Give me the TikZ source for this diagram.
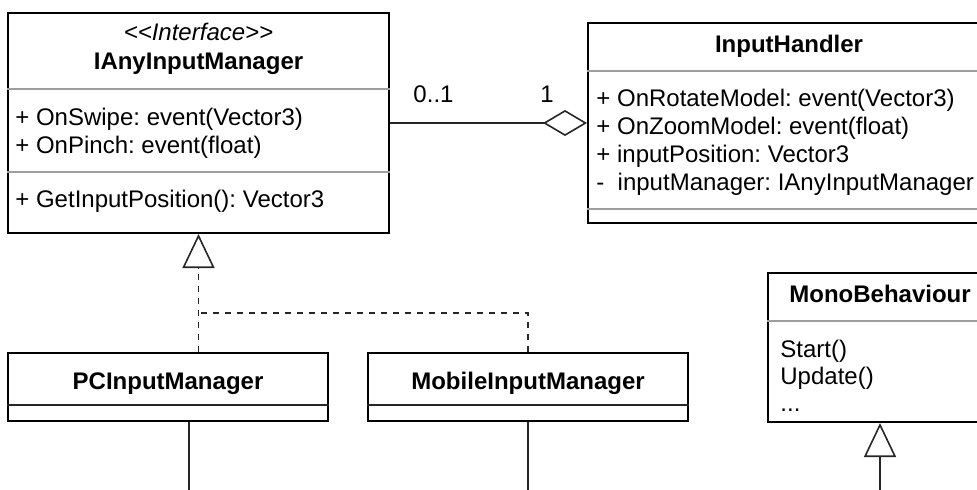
\documentclass[tikz,border=0pt]{standalone}
\usepackage{fontspec}
\newfontfamily\umlfont{Liberation Sans}
\usetikzlibrary{arrows.meta}
\frenchspacing

\tikzset{
  umlbox/.style={draw=black, line width=1pt, fill=white, inner sep=0pt},
  sepline/.style={draw=black!38, line width=1pt},
  darksep/.style={draw=black!85, line width=1pt},
  memb/.style={anchor=base west, inner sep=0pt},
  ttl/.style={anchor=base, inner sep=0pt, font=\umlfont\fontsize{12}{14.4}\selectfont\bfseries},
  stereo/.style={anchor=base, inner sep=0pt, font=\umlfont\fontsize{12}{14.4}\selectfont\itshape},
  mult/.style={anchor=base, inner sep=0pt},
  conn/.style={draw=black!85, line width=0.8pt},
  aggr/.style={conn, -{Diamond[open, length=22pt, width=13pt]}},
  realize/.style={conn, dash pattern=on 3pt off 3pt},
  realizetip/.style={realize, -{Triangle[open, length=17pt, width=16pt]}},
  generaltip/.style={conn, -{Triangle[open, length=17pt, width=16pt]}}
}

\begin{document}
\begin{tikzpicture}[x=0.5pt, y=-0.5pt, font=\umlfont\fontsize{12}{14.4}\selectfont]
\useasboundingbox (0,0) rectangle (977,489);
\clip (0,0) rectangle (977,489);

% ---------- interface IAnyInputManager ----------
\node[umlbox, minimum width=190.5pt, minimum height=110pt] (ia) at (198.5,123) {};
\draw[sepline] (ia.west |- 0,89) -- (ia.east |- 0,89);
\draw[sepline] (ia.west |- 0,172) -- (ia.east |- 0,172);
\node[stereo] (ia-st) at (198.5,40) {<{}<Interface>{}>};
\node[ttl] (ia-t) at (198.5,69) {IAnyInputManager};
\node[memb] (ia-a1) at (15,125) {+ OnSwipe: event(Vector3)};
\node[memb] (ia-a2) at (15,153) {+ OnPinch: event(float)};
\node[memb] (ia-m1) at (15,207) {+ GetInputPosition(): Vector3};

% ---------- class InputHandler ----------
\node[umlbox, minimum width=201pt, minimum height=100pt] (ih) at (789,123) {};
\draw[sepline] (ih.west |- 0,71) -- (ih.east |- 0,71);
\draw[sepline] (ih.west |- 0,209) -- (ih.east |- 0,209);
\node[ttl] (ih-t) at (789,52) {InputHandler};
\node[memb] (ih-a1) at (596,106) {+ OnRotateModel: event(Vector3)};
\node[memb] (ih-a2) at (596,134) {+ OnZoomModel: event(float)};
\node[memb] (ih-a3) at (596,162) {+ inputPosition: Vector3};
\node[memb] (ih-a4) at (596,190) {-\ \ inputManager: IAnyInputManager};

% ---------- class PCInputManager ----------
\node[umlbox, minimum width=160pt, minimum height=34pt] (pc) at (168,387) {};
\draw[darksep] (pc.west |- 0,405) -- (pc.east |- 0,405);
\node[ttl] (pc-t) at (168,389) {PCInputManager};

% ---------- class MobileInputManager ----------
\node[umlbox, minimum width=160pt, minimum height=34pt] (mob) at (528,387) {};
\draw[darksep] (mob.west |- 0,405) -- (mob.east |- 0,405);
\node[ttl] (mob-t) at (528,389) {MobileInputManager};

% ---------- class MonoBehaviour ----------
\node[umlbox, minimum width=112pt, minimum height=74.5pt] (mono) at (880,347.5) {};
\draw[sepline] (mono.west |- 0,321) -- (mono.east |- 0,321);
\node[ttl] (mono-t) at (880,302) {MonoBehaviour};
\node[memb] (mono-m1) at (780,357) {Start()};
\node[memb] (mono-m2) at (780,384) {Update()};
\node[memb] (mono-m3) at (780,411) {...};

% ---------- aggregation IAnyInputManager <>-- InputHandler ----------
\draw[aggr] (ia.east) -- (ih.west);
\node[mult] (m-01) at (433.5,102) {0..1};
\node[mult] (m-1) at (547,102) {1};

% ---------- realization of the interface ----------
\coordinate (join) at (ia.south |- 0,313);
\draw[realizetip] (pc.north -| ia.south) -- (ia.south);
\draw[realize] (mob.north) |- (join);

% ---------- connectors leaving downwards ----------
\coordinate (pc-out) at (189,500);
\coordinate (mob-out) at (528,500);
\coordinate (mono-in) at (880,500);
\draw[conn] (pc.south -| pc-out) -- (pc-out);
\draw[conn] (mob.south) -- (mob-out);
\draw[generaltip] (mono-in) -- (mono.south);
\end{tikzpicture}
\end{document}
